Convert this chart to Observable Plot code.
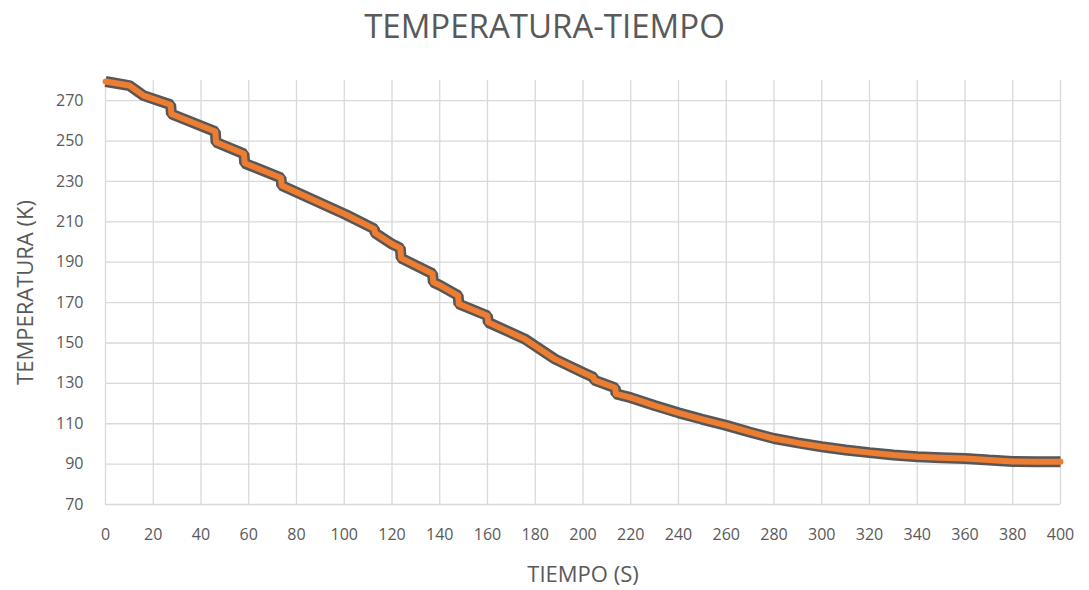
<!DOCTYPE html>
<html>
<head>
<meta charset="utf-8">
<script src="https://cdn.jsdelivr.net/npm/d3@7"></script>
<script src="https://cdn.jsdelivr.net/npm/@observablehq/plot@0.6"></script>
<style>
  html, body { margin: 0; padding: 0; background: #fff; }
  #wrap { width: 1089px; height: 590px; position: relative; overflow: hidden; }
  #title { position: absolute; left: 0; top: 0; width: 1089px; height: 60px; text-align: center;
           font-family: "Open Sans", sans-serif; font-size: 33px; color: #595959; line-height: 52px; }
  #chart { position: absolute; left: 0; top: 60px; }
</style>
</head>
<body>
<div id="wrap">
  <div id="title">TEMPERATURA-TIEMPO</div>
  <div id="chart"></div>
</div>
<script>
// Data (time in s, temperature in K)
const tiempo = [0, 10, 16, 27.3, 27.6, 46, 46.3, 58, 58.3, 73.5, 73.8, 100.8, 112.6, 112.9, 120, 123.5, 123.8,
  137, 137.3, 140, 147.7, 148, 160, 160.3, 175.6, 188.3, 200, 204.4, 204.7, 213.5, 213.8, 220, 230, 240, 250,
  260, 270, 280, 290, 300, 310, 320, 330, 340, 350, 360, 370, 380, 390, 400];
const temperatura = [279.5, 277.5, 272.5, 268, 263.4, 254.7, 249.4, 243.7, 239, 231.8, 228, 213.5, 206.5, 204.5, 199, 197, 192,
  184.3, 180.1, 178.6, 173.5, 169.3, 163.5, 160.2, 152, 142, 135.4, 133, 131.6, 127.8, 124.8, 122.9, 119, 115.4, 112.2,
  109.2, 105.8, 102.7, 100.5, 98.6, 97, 95.7, 94.5, 93.6, 93.2, 92.8, 92, 91.3, 91.2, 91.2];
const xTicks = [0, 20, 40, 60, 80, 100, 120, 140, 160, 180, 200, 220, 240, 260, 280, 300, 320, 340, 360, 380, 400];
const yTicks = [70, 90, 110, 130, 150, 170, 190, 210, 230, 250, 270];
const xLabel = "TIEMPO (S)";
const yLabel = "TEMPERATURA (K)";

const data = tiempo.map((t, i) => ({t, T: temperatura[i]}));
const textColor = "#595959";
const gridColor = "#d9d9d9";

const chart = Plot.plot({
  width: 1089,
  height: 530,
  marginTop: 20,
  marginBottom: 86,
  marginLeft: 105,
  marginRight: 29,
  style: {fontFamily: "'Open Sans', sans-serif", color: textColor, background: "#fff"},
  x: {domain: [0, 400], ticks: xTicks},
  y: {domain: [70, 280], ticks: yTicks},
  marks: [
    Plot.gridX(xTicks, {stroke: gridColor, strokeOpacity: 1, strokeWidth: 1.3}),
    Plot.gridY(yTicks, {stroke: gridColor, strokeOpacity: 1, strokeWidth: 1.3}),
    Plot.axisX(xTicks, {tickSize: 0, tickPadding: 24, fontSize: 16, fill: textColor, label: null}),
    Plot.axisY(yTicks, {tickSize: 0, tickPadding: 22, fontSize: 16, fill: textColor, label: null}),
    Plot.line(data, {x: "t", y: "T", stroke: "#575757", strokeWidth: 11, strokeLinejoin: "miter", strokeLinecap: "butt"}),
    Plot.line(data, {x: "t", y: "T", stroke: "#ED7D31", strokeWidth: 6, strokeLinejoin: "round", strokeLinecap: "round"}),
    Plot.text([xLabel], {text: d => d, frameAnchor: "bottom", dy: 70, lineAnchor: "middle", textAnchor: "middle", fontSize: 22, fill: textColor}),
    Plot.text([yLabel], {text: d => d, frameAnchor: "left", dx: -80, rotate: -90, lineAnchor: "middle", textAnchor: "middle", fontSize: 22, fill: textColor})
  ]
});
document.getElementById("chart").appendChild(chart);
</script>
</body>
</html>
